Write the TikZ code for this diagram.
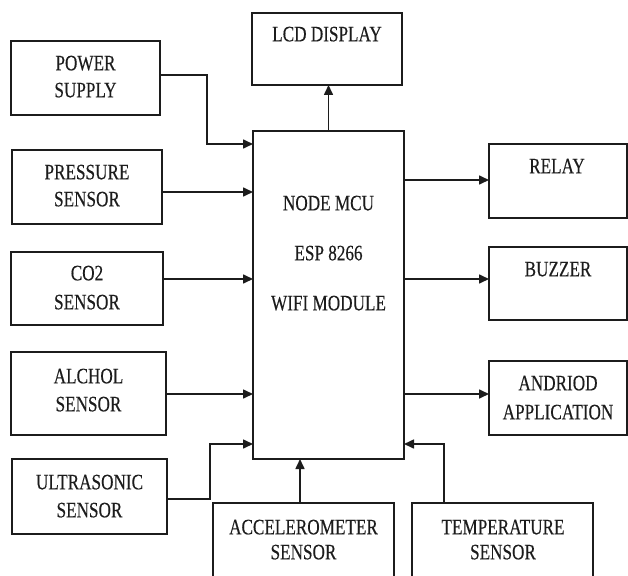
\documentclass[tikz,border=0pt]{standalone}
\usepackage{fontspec}
\usepackage{graphicx}
\setmainfont{Liberation Serif}
\newfontfamily\lblfont{Liberation Serif}[FakeBold=0.3]
\usetikzlibrary{arrows.meta}
\definecolor{ink}{HTML}{1c1c1c}
\newcommand{\sq}[1]{\scalebox{0.78}[1]{#1}}
\tikzset{
  blk/.style={draw=ink, line width=1.6pt, anchor=north west, inner sep=0pt, outer sep=0pt},
  lbl/.style={text=ink, font=\lblfont\fontsize{22}{27}\selectfont, inner sep=0pt, text height=14.6pt, text depth=0pt},
  arr/.style={draw=ink, line width=1.6pt, -{Triangle[length=10pt,width=9pt]}}
}
\begin{document}
\begin{tikzpicture}[x=1pt,y=-1pt]
\clip (0,0) rectangle (628,575);
\fill[white] (0,0) rectangle (628,575);
% boxes
\node[blk, minimum width=149pt, minimum height=74pt] (pw) at (11,41) {};
\node[blk, minimum width=150pt, minimum height=74pt] (pr) at (12,150) {};
\node[blk, minimum width=152pt, minimum height=73pt] (co) at (11,252) {};
\node[blk, minimum width=155pt, minimum height=83pt] (al) at (11,352) {};
\node[blk, minimum width=155pt, minimum height=75pt] (us) at (12,459) {};
\node[blk, minimum width=150pt, minimum height=72pt] (lcd) at (252,13) {};
\node[blk, minimum width=151pt, minimum height=328pt] (mcu) at (253,131) {};
\node[blk, minimum width=138pt, minimum height=74pt] (rl) at (489,144) {};
\node[blk, minimum width=138pt, minimum height=73pt] (bz) at (489,247) {};
\node[blk, minimum width=138pt, minimum height=74pt] (an) at (489,361) {};
\node[blk, minimum width=181pt, minimum height=80pt] (ac) at (213,503) {};
\node[blk, minimum width=181pt, minimum height=80pt] (tp) at (412,503) {};
% labels
\node[lbl] (pw1) at (85.5,63) {\sq{POWER}};
\node[lbl] (pw2) at (85.5,90) {\sq{SUPPLY}};
\node[lbl] (pr1) at (87,172) {\sq{PRESSURE}};
\node[lbl] (pr2) at (87,199) {\sq{SENSOR}};
\node[lbl] (co1) at (87,273) {\sq{CO2}};
\node[lbl] (co2) at (87,302) {\sq{SENSOR}};
\node[lbl] (al1) at (88.5,376) {\sq{ALCHOL}};
\node[lbl] (al2) at (88.5,404) {\sq{SENSOR}};
\node[lbl] (us1) at (89.5,482) {\sq{ULTRASONIC}};
\node[lbl] (us2) at (89.5,510) {\sq{SENSOR}};
\node[lbl] (ac1) at (303.5,527) {\sq{ACCELEROMETER}};
\node[lbl] (ac2) at (303.5,552) {\sq{SENSOR}};
\node[lbl] (tp1) at (503,527) {\sq{TEMPERATURE}};
\node[lbl] (tp2) at (503,552) {\sq{SENSOR}};
\node[lbl] (lcd1) at (327,34) {\sq{LCD DISPLAY}};
\node[lbl] (rl1) at (557,166) {\sq{RELAY}};
\node[lbl] (bz1) at (558,269) {\sq{BUZZER}};
\node[lbl] (an1) at (558,383) {\sq{ANDRIOD}};
\node[lbl] (an2) at (558,412) {\sq{APPLICATION}};
\node[lbl] (m1) at (328.5,203) {\sq{NODE MCU}};
\node[lbl] (m2) at (328.5,253) {\sq{ESP 8266}};
\node[lbl] (m3) at (328.5,303) {\sq{WIFI MODULE}};
% connector points
\coordinate (pwA) at ([yshift=3pt]pw.east);
\coordinate (prA) at ([yshift=-5pt]pr.east);
\coordinate (coA) at ([yshift=9.5pt]co.east);
\coordinate (alA) at ([yshift=-0.5pt]al.east);
\coordinate (usA) at ([yshift=-2.5pt]us.east);
\coordinate (rlA) at ([yshift=1pt]rl.west);
\coordinate (bzA) at ([yshift=4.5pt]bz.west);
\coordinate (anA) at ([yshift=4pt]an.west);
\coordinate (acA) at ([xshift=-3.5pt]ac.north);
\coordinate (tpA) at ([xshift=-58.5pt]tp.north);
\coordinate (mL144) at (253,144);
\coordinate (mL444) at (253,444);
\coordinate (mR444) at (404,444);
% connectors
\draw[arr] (pwA) -- ++(47,0) |- (mL144);
\draw[arr] (prA) -- (prA -| mcu.west);
\draw[arr] (coA) -- (coA -| mcu.west);
\draw[arr] (alA) -- (alA -| mcu.west);
\draw[arr] (usA) -- ++(43,0) |- (mL444);
\draw[arr] (acA) -- (acA |- mcu.south);
\draw[arr] (tpA) |- (mR444);
\draw[arr] (mcu.north) -- (mcu.north |- lcd.south);
\draw[arr] (rlA -| mcu.east) -- (rlA);
\draw[arr] (bzA -| mcu.east) -- (bzA);
\draw[arr] (anA -| mcu.east) -- (anA);
\end{tikzpicture}
\end{document}
